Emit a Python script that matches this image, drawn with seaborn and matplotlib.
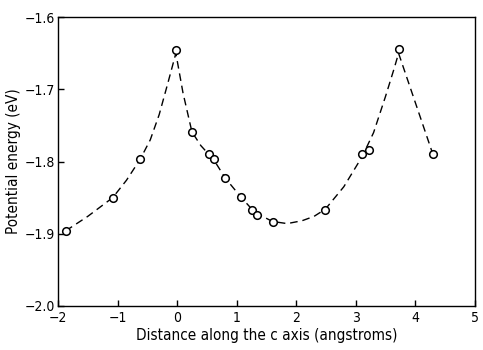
import matplotlib
matplotlib.use("Agg")
import matplotlib.pyplot as plt
import seaborn as sns

# computed points (circles)
pt_x = [-1.87, -1.08, -0.62, -0.01, 0.25, 0.53, 0.62, 0.81, 1.07, 1.26, 1.34, 1.61,
        2.49, 3.11, 3.22, 3.73, 4.30]
pt_y = [-1.896, -1.850, -1.797, -1.645, -1.759, -1.790, -1.797, -1.823, -1.849, -1.867,
        -1.874, -1.884, -1.867, -1.790, -1.784, -1.644, -1.789]

# dashed guide curve
curve_x = [-1.87, -1.5, -1.08, -0.85, -0.62, -0.45, -0.3, -0.15, -0.02,
           0.1, 0.25, 0.4, 0.62, 0.81, 1.07, 1.3, 1.6, 1.85, 2.1, 2.3, 2.49,
           2.8, 3.11, 3.3, 3.5, 3.65, 3.72, 4.28]
curve_y = [-1.896, -1.876, -1.850, -1.826, -1.797, -1.770, -1.735, -1.690, -1.650,
           -1.705, -1.759, -1.778, -1.798, -1.823, -1.849, -1.870, -1.883, -1.886,
           -1.882, -1.876, -1.866, -1.835, -1.793, -1.760, -1.710, -1.670, -1.650,
           -1.786]

x_ticks = [-2, -1, 0, 1, 2, 3, 4, 5]
y_ticks = [-2.0, -1.9, -1.8, -1.7, -1.6]

sns.set_style("ticks")
plt.rcParams['font.family'] = ['DejaVu Sans']
plt.rcParams['font.stretch'] = 'condensed'
for k in ['text.color', 'axes.labelcolor', 'xtick.color', 'ytick.color']:
    plt.rcParams[k] = 'black'

fig = plt.figure(figsize=(4.83, 3.5), dpi=100)
ax = fig.add_axes([0.120, 0.126, 0.863, 0.825])

sns.lineplot(x=curve_x, y=curve_y, ax=ax, color='black', lw=1.0,
             linestyle=(0, (5.5, 3.5)), sort=False)
sns.scatterplot(x=pt_x, y=pt_y, ax=ax, s=30, marker='o', facecolor='white',
                edgecolor='black', linewidth=1.1, zorder=3)

ax.set_xlim(-2, 5)
ax.set_ylim(-2.0, -1.6)
ax.set_xticks(x_ticks)
ax.set_yticks(y_ticks)
ax.set_xticklabels([str(t) if t >= 0 else '\u2212' + str(-t) for t in x_ticks])
ax.set_yticklabels(['\u2212%.1f' % -t for t in y_ticks])
ax.tick_params(direction='in', length=4, width=1, labelsize=10,
               top=False, right=False)
ax.tick_params(axis='x', pad=4)
ax.tick_params(axis='y', pad=2)
for s in ax.spines.values():
    s.set_linewidth(1)
    s.set_color('black')

ax.set_xlabel('Distance along the c axis (angstroms)', fontsize=11, labelpad=2)
ax.set_ylabel('Potential energy (eV)', fontsize=11, labelpad=3)

fig.savefig('out.png', dpi=100)
